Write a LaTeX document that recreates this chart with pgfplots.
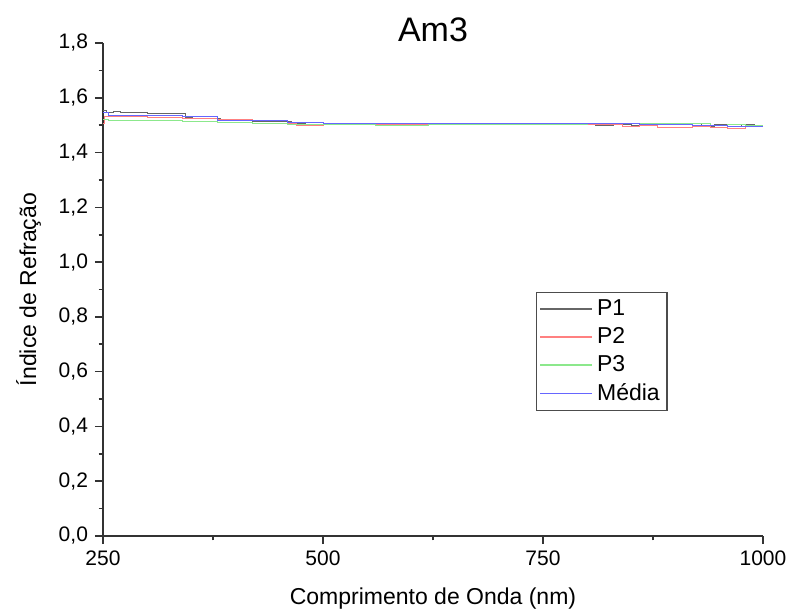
\documentclass[border=0pt]{standalone}
\usepackage{pgfplots}
\pgfplotsset{compat=1.18}
\usepackage{fontspec}
\setmainfont{Liberation Sans}
\begin{document}
\begin{tikzpicture}
\begin{axis}[
  name=ax,
  scale only axis,
  width=330pt, height=246.5pt,
  xmin=250, xmax=1000, ymin=0, ymax=1.8,
  axis x line*=bottom, axis y line*=left,
  axis line style={line width=0.9pt, black!80},
  xtick={250,500,750,1000},
  ytick={0,0.2,...,1.8},
  minor x tick num=1, minor y tick num=1,
  tick align=outside,
  major tick length=4pt, minor tick length=2.2pt,
  tick style={line width=0.8pt, black!80},
  tick label style={font=\fontsize{10.5}{12}\selectfont},
  /pgf/number format/assume math mode=true,
  xticklabel={\pgfmathprintnumber[fixed,precision=0,1000 sep={}]{\tick}},
  yticklabel={\pgfmathprintnumber[fixed,fixed zerofill,precision=1,use comma]{\tick}},
  xlabel={Comprimento de Onda (nm)},
  ylabel={Índice de Refração},
  label style={font=\fontsize{11.5}{13}\selectfont},
  xlabel style={yshift=-4pt},
  ylabel style={yshift=2pt},
  title={Am3},
  title style={font=\fontsize{17}{19}\selectfont, yshift=-9pt},
  legend style={at={(0.656,0.495)}, anchor=north west, draw=black!70,
    line width=0.7pt,
    font=\fontsize{11.5}{13}\selectfont, row sep=0.5pt, inner sep=1.5pt},
  legend cell align=left,
  legend image code/.code={\draw[#1, sharp plot, line width=0.75pt] (0pt,0pt) -- (26pt,0pt);},
  every axis plot/.append style={line width=0.45pt},
]
\addplot[const plot, black!60] coordinates {
(250,1.553) (254,1.546) (262,1.549) (270,1.545) (290,1.547) (300,1.544) (340,1.541)
(344,1.528) (352,1.525) (365,1.526) (380,1.523) (384,1.516) (420,1.515) (460,1.514)
(464,1.508) (480,1.510) (500,1.506) (560,1.505) (580,1.507) (620,1.503) (660,1.505)
(700,1.504) (740,1.506) (790,1.503) (810,1.498) (830,1.502) (850,1.500) (880,1.503)
(920,1.506) (930,1.497) (945,1.502) (960,1.496) (975,1.504) (990,1.499) (1000,1.502)};
\addplot[const plot, red!50] coordinates {
(250,1.508) (252,1.533) (262,1.530) (300,1.528) (340,1.525) (380,1.520) (420,1.516)
(460,1.506) (470,1.500) (500,1.503) (560,1.502) (620,1.504) (700,1.503) (760,1.502)
(800,1.503) (840,1.496) (860,1.500) (880,1.493) (900,1.490) (920,1.494) (940,1.491)
(960,1.488) (980,1.494) (1000,1.495)};
\addplot[const plot, green!80!black!45] coordinates {
(250,1.522) (256,1.516) (290,1.518) (340,1.513) (380,1.509) (420,1.508) (460,1.503)
(500,1.501) (560,1.500) (620,1.502) (700,1.501) (760,1.503) (800,1.505) (860,1.506)
(920,1.505) (940,1.500) (960,1.503) (980,1.500) (1000,1.501)};
\addplot[const plot, blue!60] coordinates {
(250,1.546) (256,1.536) (300,1.534) (340,1.531) (380,1.518) (420,1.516) (460,1.510)
(500,1.507) (560,1.505) (620,1.506) (700,1.505) (760,1.506) (800,1.505) (860,1.504)
(920,1.500) (960,1.497) (1000,1.498)};
\legend{P1,P2,P3,Média}
\end{axis}
\pgfresetboundingbox
\path (ax.south west) ++(-51.5pt,-37pt) rectangle ++(393.5pt,305pt);
\end{tikzpicture}
\end{document}
